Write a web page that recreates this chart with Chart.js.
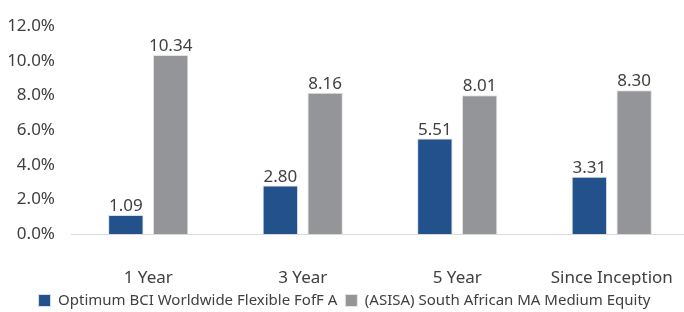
<!DOCTYPE html>
<html>
<head>
<meta charset="utf-8">
<script src="https://cdn.jsdelivr.net/npm/chart.js@4.4.1/dist/chart.umd.min.js"></script>
<style>
  html, body { margin: 0; padding: 0; background: #fff; overflow: hidden; }
  #wrap { width: 689px; height: 312px; }
</style>
</head>
<body>
<div id="wrap"><canvas id="chart"></canvas></div>
<script>
// Chart data
const categories = ['1 Year', '3 Year', '5 Year', 'Since Inception'];
const fundName = 'Optimum BCI Worldwide Flexible FofF A';
const fundValues = [1.09, 2.80, 5.51, 3.31];
const sectorName = '(ASISA) South African MA Medium Equity';
const sectorValues = [10.34, 8.16, 8.01, 8.30];
const yTicks = [0, 2, 4, 6, 8, 10, 12];

const fontFamily = '"Noto Sans", "Open Sans", sans-serif';
const textColor = '#404040';

// Draw the value above each bar
const valueLabels = {
    id: 'valueLabels',
    afterDatasetsDraw(chart) {
        const ctx = chart.ctx;
        ctx.save();
        ctx.font = '17px ' + fontFamily;
        ctx.fillStyle = textColor;
        ctx.textAlign = 'center';
        ctx.textBaseline = 'alphabetic';
        chart.data.datasets.forEach((ds, i) => {
            chart.getDatasetMeta(i).data.forEach((bar, j) => {
                ctx.fillText(ds.data[j].toFixed(2), bar.x, bar.y - 4);
            });
        });
        ctx.restore();
    }
};

let ctx = document.getElementById('chart').getContext('2d');
new Chart(ctx, {
    type: 'bar',
    data: {
        labels: categories,
        datasets: [{
            label: fundName,
            data: fundValues,
            backgroundColor: '#22518B',
            borderColor: '#d6dfea',
            borderWidth: 1,
            categoryPercentage: 0.58,
            barPercentage: 0.79
        }, {
            label: sectorName,
            data: sectorValues,
            backgroundColor: '#939598',
            borderColor: '#e4e4e5',
            borderWidth: 1,
            categoryPercentage: 0.58,
            barPercentage: 0.79
        }]
    },
    options: {
        responsive: true,
        maintainAspectRatio: false,
        animation: false,
        layout: { padding: { top: 20, right: 0, left: 0, bottom: -6 } },
        plugins: {
            tooltip: { enabled: false },
            legend: {
                position: 'bottom',
                labels: {
                    color: textColor,
                    font: { family: fontFamily, size: 15 },
                    boxWidth: 12,
                    boxHeight: 12,
                    padding: 8
                }
            }
        },
        scales: {
            x: {
                grid: { display: false, drawTicks: true, tickLength: 30 },
                border: { display: true, color: '#d9d9d9', width: 1 },
                ticks: {
                    color: textColor,
                    font: { family: fontFamily, size: 17 },
                    padding: 4,
                    maxRotation: 0
                },
                afterFit(scale) { scale.height = 51; }
            },
            y: {
                min: 0,
                max: 12,
                afterBuildTicks(scale) { scale.ticks = yTicks.map(v => ({ value: v })); },
                grid: { display: false, drawTicks: false },
                border: { display: false },
                ticks: {
                    color: textColor,
                    font: { family: fontFamily, size: 17 },
                    padding: 16,
                    callback: v => v.toFixed(1) + '%'
                },
                afterFit(scale) { scale.width = 71; }
            }
        }
    },
    plugins: [valueLabels]
});
</script>
</body>
</html>
